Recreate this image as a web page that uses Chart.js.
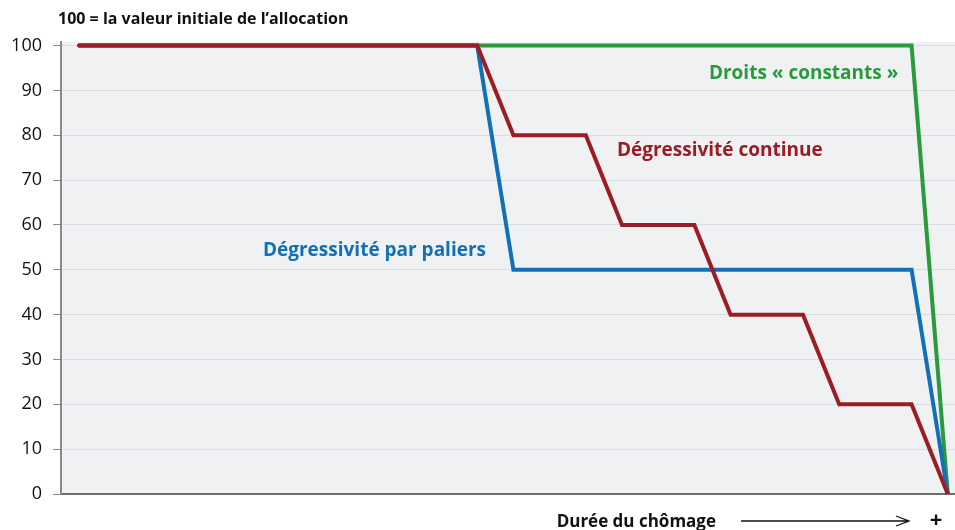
<!DOCTYPE html>
<html lang="fr">
<head>
<meta charset="UTF-8">
<title>Dégressivité des allocations</title>
<script src="https://cdn.jsdelivr.net/npm/chart.js"></script>
<style>
    body { margin: 0; background: #fff; }
    #wrap { width: 955px; height: 530px; position: relative; }
</style>
</head>
<body>
<div id="wrap"><canvas id="chart"></canvas></div>
<script>
// durée du chômage (unités arbitraires) et niveau de l'allocation (100 = initial)
const palierX = [0, 11, 12, 23, 24];
const palierY = [100, 100, 50, 50, 0];
const continueX = [0, 11, 12, 14, 15, 17, 18, 20, 21, 23, 24];
const continueY = [100, 100, 80, 80, 60, 60, 40, 40, 20, 20, 0];
const constantX = [0, 11, 23, 24];
const constantY = [100, 100, 100, 0];
const yTicks = [0, 10, 20, 30, 40, 50, 60, 70, 80, 90, 100];

const FONT = '"Open Sans", sans-serif';
const BLUE = '#1170b8', RED = '#9b1c24', GREEN = '#2a9a3c';

function pts(xs, ys) { return xs.map((x, i) => ({ x: x, y: ys[i] })); }

// libellés placés en coordonnées de données (bord gauche du texte)
const labels = [
    { text: 'Droits « constants »', x: 17.4, y: 93.8, color: GREEN },
    { text: 'Dégressivité continue', x: 14.86, y: 76.5, color: RED },
    { text: 'Dégressivité par paliers', x: 5.08, y: 54.3, color: BLUE }
];

const decor = {
    id: 'decor',
    beforeDraw(chart) {
        const { ctx, chartArea: a } = chart;
        ctx.save();
        ctx.fillStyle = '#f0f1f3';
        ctx.fillRect(a.left, a.top, a.right - a.left, a.bottom - a.top);
        ctx.restore();
    },
    afterDraw(chart) {
        const { ctx, scales } = chart;
        ctx.save();
        ctx.textBaseline = 'middle';
        ctx.textAlign = 'left';
        ctx.font = 'bold 19px ' + FONT;
        labels.forEach(l => {
            ctx.fillStyle = l.color;
            ctx.fillText(l.text, scales.x.getPixelForValue(l.x), scales.y.getPixelForValue(l.y));
        });
        // titre de l'axe vertical
        ctx.fillStyle = '#111';
        ctx.font = 'bold 16px ' + FONT;
        ctx.fillText('100 = la valeur initiale de l\u2019allocation', 58, 19);
        // titre de l'axe horizontal
        ctx.font = 'bold 17px ' + FONT;
        ctx.textAlign = 'right';
        ctx.fillText('Durée du chômage', 716, 522);
        ctx.strokeStyle = '#111';
        ctx.lineWidth = 1.3;
        ctx.beginPath();
        ctx.moveTo(741, 521); ctx.lineTo(909, 521);
        ctx.moveTo(896, 516); ctx.lineTo(909, 521); ctx.lineTo(896, 526);
        ctx.stroke();
        ctx.textAlign = 'center';
        ctx.font = 'bold 22px ' + FONT;
        ctx.fillText('+', 936, 521);
        ctx.restore();
    }
};

new Chart(document.getElementById('chart'), {
    type: 'line',
    data: {
        datasets: [
            { data: pts(continueX, continueY), borderColor: RED, order: 1 },
            { data: pts(palierX, palierY), borderColor: BLUE, order: 2 },
            { data: pts(constantX, constantY), borderColor: GREEN, order: 3 }
        ]
    },
    options: {
        responsive: true,
        maintainAspectRatio: false,
        animation: false,
        layout: { padding: { top: 42, right: 0, bottom: 28, left: 0 } },
        elements: {
            line: { borderWidth: 4, tension: 0, borderCapStyle: 'round', borderJoinStyle: 'miter' },
            point: { radius: 0 }
        },
        plugins: { legend: { display: false }, tooltip: { enabled: false } },
        scales: {
            x: {
                type: 'linear',
                min: -0.5,
                max: 24.2,
                grid: { display: false },
                ticks: { display: false },
                border: { color: '#6e6e6e', width: 2 }
            },
            y: {
                min: 0,
                max: 100.8,
                afterBuildTicks(s) { s.ticks = yTicks.map(v => ({ value: v })); },
                afterFit(s) { s.width = 61; },
                ticks: {
                    color: '#111',
                    padding: 11,
                    font: { family: FONT, size: 18 }
                },
                grid: { color: '#dcdde1', lineWidth: 1, tickLength: 8, tickColor: '#8a8a8a', drawOnChartArea: true },
                border: { color: '#8a8a8a', width: 2 }
            }
        }
    },
    plugins: [decor]
});
</script>
</body>
</html>
